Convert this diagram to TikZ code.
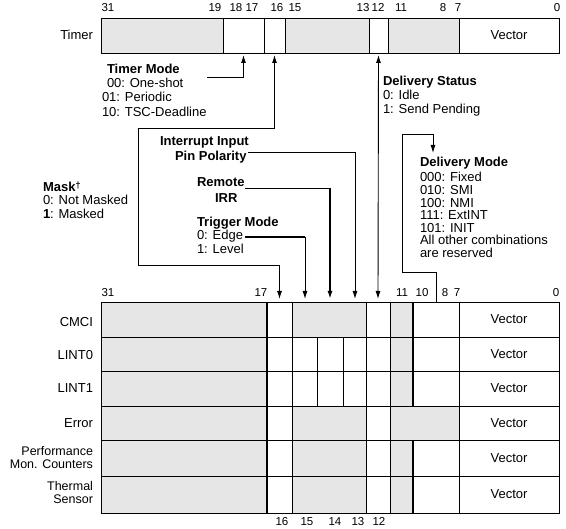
\documentclass[tikz,border=0pt]{standalone}
\usepackage{fontspec}
\setmainfont{Liberation Sans}
\usetikzlibrary{arrows.meta}
\definecolor{regGray}{RGB}{230,230,230}
\newcommand\regcell[7]{%
  \node[cellbox,fill=#6,minimum width={(#3-#2)*1pt},minimum height={(#5-#4)*1pt}] (#1) at ({(#2+#3)/2},{(#4+#5)/2}) {#7};}
\begin{document}
\begin{tikzpicture}[x=1pt,y=-1pt,
  cellbox/.style={draw,line width=0.9pt,inner sep=0pt,outer sep=0pt,font=\fontsize{13}{15}\selectfont},
  txt/.style={inner sep=0pt,outer sep=0pt,anchor=base west,font=\fontsize{13}{15}\selectfont},
  txtr/.style={txt,anchor=base east},
  txtrs/.style={txtr,font=\fontsize{12.5}{14}\selectfont},
  bitn/.style={inner sep=0pt,outer sep=0pt,anchor=base,font=\fontsize{11.5}{13}\selectfont},
  conn/.style={line width=0.9pt},
  tip/.style={-{Latex[length=8pt,width=5pt]}},
  bothtips/.style={{Latex[length=8pt,width=5pt]}-{Latex[length=8pt,width=5pt]}},
  heavy/.style={line width=2.2pt}
]
\useasboundingbox (0,0) rectangle (566,529);
\fill[white] (0,0) rectangle (566,529);

% ---------- top register (Timer) ----------
\regcell{tA}{101}{223}{18}{53}{regGray}{}
\regcell{tB}{223}{264}{18}{53}{white}{}
\regcell{tC}{264}{285}{18}{53}{white}{}
\regcell{tD}{285}{369}{18}{53}{regGray}{}
\regcell{tE}{369}{388}{18}{53}{white}{}
\regcell{tF}{388}{459}{18}{53}{regGray}{}
\regcell{tG}{459}{559}{18}{53}{white}{Vector}
\node[txtr] (lTimer) at (93,40) {Timer};

\foreach \n/\x in {31/108,19/215,18/236,17/252,16/277,15/295,13/363,12/378,11/401,8/443,7/458,0/557}
  \node[bitn] (tn\n) at (\x,12) {\n};

% ---------- bottom register ----------
% CMCI
\regcell{cA}{101}{267}{302}{337}{regGray}{}
\regcell{cB}{267}{292}{302}{337}{white}{}
\regcell{cC}{292}{366}{302}{337}{regGray}{}
\regcell{cD}{366}{390}{302}{337}{white}{}
\regcell{cE}{390}{413}{302}{337}{regGray}{}
\regcell{cF}{413}{459}{302}{337}{white}{}
\regcell{cG}{459}{559}{302}{337}{white}{Vector}
% LINT0
\regcell{lA}{101}{267}{337}{371}{regGray}{}
\regcell{lB}{267}{292}{337}{371}{white}{}
\regcell{lC}{292}{317}{337}{371}{white}{}
\regcell{lD}{317}{343}{337}{371}{white}{}
\regcell{lE}{343}{366}{337}{371}{white}{}
\regcell{lF}{366}{390}{337}{371}{white}{}
\regcell{lG}{390}{413}{337}{371}{regGray}{}
\regcell{lH}{413}{459}{337}{371}{white}{}
\regcell{lI}{459}{559}{337}{371}{white}{Vector}
% LINT1
\regcell{mA}{101}{267}{371}{406}{regGray}{}
\regcell{mB}{267}{292}{371}{406}{white}{}
\regcell{mC}{292}{317}{371}{406}{white}{}
\regcell{mD}{317}{343}{371}{406}{white}{}
\regcell{mE}{343}{366}{371}{406}{white}{}
\regcell{mF}{366}{390}{371}{406}{white}{}
\regcell{mG}{390}{413}{371}{406}{regGray}{}
\regcell{mH}{413}{459}{371}{406}{white}{}
\regcell{mI}{459}{559}{371}{406}{white}{Vector}
% Error
\regcell{eA}{101}{267}{406}{440}{regGray}{}
\regcell{eB}{267}{292}{406}{440}{white}{}
\regcell{eC}{292}{366}{406}{440}{regGray}{}
\regcell{eD}{366}{390}{406}{440}{white}{}
\regcell{eE}{390}{459}{406}{440}{regGray}{}
\regcell{eF}{459}{559}{406}{440}{white}{Vector}
% Performance Mon. Counters
\regcell{pA}{101}{267}{440}{476}{regGray}{}
\regcell{pB}{267}{292}{440}{476}{white}{}
\regcell{pC}{292}{366}{440}{476}{regGray}{}
\regcell{pD}{366}{390}{440}{476}{white}{}
\regcell{pE}{390}{413}{440}{476}{regGray}{}
\regcell{pF}{413}{459}{440}{476}{white}{}
\regcell{pG}{459}{559}{440}{476}{white}{Vector}
% Thermal Sensor
\regcell{sA}{101}{267}{476}{513}{regGray}{}
\regcell{sB}{267}{292}{476}{513}{white}{}
\regcell{sC}{292}{366}{476}{513}{regGray}{}
\regcell{sD}{366}{390}{476}{513}{white}{}
\regcell{sE}{390}{413}{476}{513}{regGray}{}
\regcell{sF}{413}{459}{476}{513}{white}{}
\regcell{sG}{459}{559}{476}{513}{white}{Vector}

% thick separators
\draw[heavy] (cA.north east) -- (sA.south east);
\draw[heavy] (cE.north east) -- (mG.south east);
\draw[heavy] (pE.north east) -- (sE.south east);

% row labels
\node[txtr] (rCMCI) at (93,327) {CMCI};
\node[txtr] (rLINT0) at (93,360) {LINT0};
\node[txtr] (rLINT1) at (93,393) {LINT1};
\node[txtr] (rErr) at (93,428) {Error};
\node[txtrs] (rPerf1) at (93,455.5) {Performance};
\node[txtrs] (rPerf2) at (93,469) {Mon. Counters};
\node[txtrs] (rTh1) at (93,490.5) {Thermal};
\node[txtrs] (rTh2) at (93,504) {Sensor};

% bit numbers of bottom register
\foreach \n/\x in {31/108,17/261,11/402,10/422,8/445,7/457,0/556}
  \node[bitn] (bn\n) at (\x,297) {\n};
\foreach \n/\x in {16/282,15/307,14/335,13/358,12/379}
  \node[bitn] (bb\n) at (\x,526) {\n};

% ---------- field descriptions ----------
\node[txt] (tm0) at (107,74) {\textbf{Timer Mode}};
\node[txt] (tm1) at (107,88) {00: One-shot};
\node[txt] (tm2) at (102,102) {01: Periodic};
\node[txt] (tm3) at (102,116.5) {10: TSC-Deadline};

\node[txt] (ds0) at (383,86) {\textbf{Delivery Status}};
\node[txt] (ds1) at (383,100) {0: Idle};
\node[txt] (ds2) at (383,114) {1: Send Pending};

\node[txt] (pp0) at (160,146) {\textbf{Interrupt Input}};
\node[txt] (pp1) at (175,161) {\textbf{Pin Polarity}};

\node[txt] (ri0) at (197,187) {\textbf{Remote}};
\node[txt] (ri1) at (215,203) {\textbf{IRR}};

\node[txt] (tr0) at (197,227) {\textbf{Trigger Mode}};
\node[txt] (tr1) at (197,240) {0: Edge};
\node[txt] (tr2) at (197,254) {1: Level};

\node[txt] (mk0) at (43,192) {\textbf{Mask}\raisebox{3.5pt}{\fontsize{9}{9}\selectfont\textbf{†}}};
\node[txt] (mk1) at (43,205) {0: Not Masked};
\node[txt] (mk2) at (43,219) {\textbf{1}: Masked};

\node[txt] (dm0) at (420,167) {\textbf{Delivery Mode}};
\node[txt] (dm1) at (420,182) {000: Fixed};
\node[txt] (dm2) at (420,195) {010: SMI};
\node[txt] (dm3) at (420,207.5) {100: NMI};
\node[txt] (dm4) at (420,220) {111: ExtINT};
\node[txt] (dm5) at (420,232.5) {101: INIT};
\node[txt] (dm6) at (420,245) {All other combinations};
\node[txt] (dm7) at (420,258) {are reserved};

% ---------- connector coordinates ----------
\coordinate (aT17) at ([yshift=-2pt]tB.south);
\coordinate (aT16) at ([yshift=-2pt]tC.south);
\coordinate (aT12) at ([yshift=-2pt]tE.south);
\coordinate (aB16) at ([yshift=3pt]cB.north);
\coordinate (aB15) at (305,299);
\coordinate (aB14) at (330,299);
\coordinate (aB13) at (355,299);
\coordinate (aB12) at ([yshift=3pt]cD.north);

\coordinate (tmS) at (207,77);
\coordinate (mkA) at (138,128);
\coordinate (mkB) at (138,265);
\coordinate (ppS) at (248,152);
\coordinate (riS) at (245,188);
\coordinate (riC) at (330,188);
\coordinate (trS) at (245,237);
\coordinate (trC) at (305,237);
\coordinate (dmS) at (436,302);
\coordinate (dmA) at (402,272);
\coordinate (dmB) at (402,134);
\coordinate (dmT) at (433,153);

% ---------- connectors ----------
\draw[conn,tip] (tmS) -| (aT17);
\draw[conn,bothtips] (aT16) |- (mkA) -- (mkB) -| (aB16);
\draw[conn,bothtips] (aT12) -- (aB12);
\draw[conn,tip] (ppS) -| (aB13);
\draw[conn] (riS) -- (riC);
\draw[conn,line width=1.7pt,tip] (riC) -- (aB14);
\draw[conn,line width=1.7pt] (trS) -- (trC);
\draw[conn,tip] (trC) -- (aB15);
\draw[conn] (dmS) |- (dmA) -- (dmB);
\draw[conn,tip] (dmB) -| (dmT);
\end{tikzpicture}
\end{document}
